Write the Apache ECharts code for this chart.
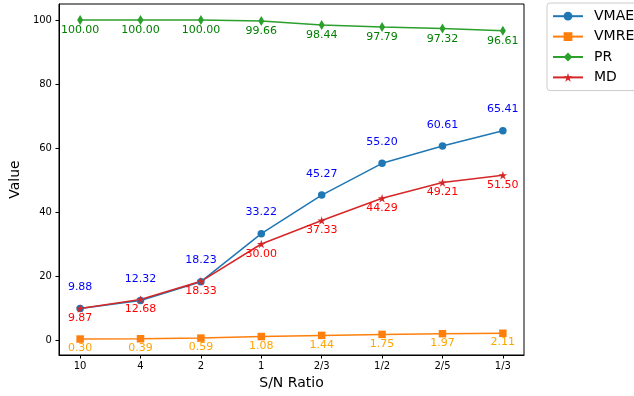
<!DOCTYPE html>
<html>
<head>
<meta charset="utf-8">
<script src="https://cdn.jsdelivr.net/npm/echarts@6/dist/echarts.min.js"></script>
<style>
  html, body { margin: 0; padding: 0; background: #fff; }
  #chart { width: 634px; height: 396px; }
</style>
</head>
<body>
<div id="chart"></div>
<script>
// S/N ratio categories along the x axis
const categories = ['10', '4', '2', '1', '2/3', '1/2', '2/5', '1/3'];

// Metric values per S/N ratio
const vmae = [9.88, 12.32, 18.23, 33.22, 45.27, 55.20, 60.61, 65.41];
const vmre = [0.30, 0.39, 0.59, 1.08, 1.44, 1.75, 1.97, 2.11];
const pr   = [100.00, 100.00, 100.00, 99.66, 98.44, 97.79, 97.32, 96.61];
const md   = [9.87, 12.68, 18.33, 30.00, 37.33, 44.29, 49.21, 51.50];

// Y tick values
const yTicks = [0, 20, 40, 60, 80, 100];

const FONT = 'DejaVu Sans';

function pts(values) {
  return values.map((v, i) => [i, v]);
}

function makeSeries(name, values, color, labelColor, symbol, symbolSize, labelPos, labelDist) {
  return {
    name: name,
    type: 'line',
    data: pts(values),
    symbol: symbol,
    symbolSize: symbolSize,
    showAllSymbol: true,
    lineStyle: { color: color, width: 1.5 },
    itemStyle: { color: color, borderWidth: 0 },
    emphasis: { disabled: true },
    animation: false,
    label: {
      show: true,
      position: labelPos,
      distance: labelDist,
      color: labelColor,
      fontFamily: FONT,
      fontSize: 11,
      formatter: p => p.value[1].toFixed(2)
    }
  };
}

const chart = echarts.init(document.getElementById('chart'), null, { renderer: 'canvas' });

const thinDiamond = 'path://M0,-1.5 L1,0 L0,1.5 L-1,0 Z';
const star = 'path://M0,-1 L0.2245,-0.309 L0.951,-0.309 L0.3633,0.118 L0.5878,0.809 L0,0.382 L-0.5878,0.809 L-0.3633,0.118 L-0.951,-0.309 L-0.2245,-0.309 Z';

chart.setOption({
  backgroundColor: '#ffffff',
  animation: false,
  grid: {
    left: 54, top: 4, width: 470, height: 351,
    show: true, borderColor: '#000', borderWidth: 1, backgroundColor: 'transparent'
  },
  legend: {
    orient: 'vertical',
    left: 547, top: 3,
    padding: [5, 8, 5, 5],
    itemWidth: 30, itemHeight: 11, itemGap: 4,
    borderColor: '#cccccc', borderWidth: 1, borderRadius: 3,
    backgroundColor: '#fff',
    textStyle: { fontFamily: FONT, fontSize: 14, color: '#000', padding: [0, 0, 0, 6], lineHeight: 16.4 },
    data: ['VMAE', 'VMRE', 'PR', 'MD']
  },
  xAxis: {
    type: 'value',
    min: -0.35, max: 7.35,
    name: 'S/N Ratio',
    nameLocation: 'middle',
    nameGap: 19,
    nameTextStyle: { fontFamily: FONT, fontSize: 14, color: '#000' },
    axisLine: { show: true, onZero: false, lineStyle: { color: '#000', width: 1 } },
    axisTick: { show: true, length: 3.5, lineStyle: { color: '#000', width: 1 }, customValues: [0, 1, 2, 3, 4, 5, 6, 7] },
    axisLabel: {
      fontFamily: FONT, fontSize: 10, color: '#000', margin: 6,
      customValues: [0, 1, 2, 3, 4, 5, 6, 7],
      formatter: v => categories[Math.round(v)]
    },
    splitLine: { show: false }
  },
  yAxis: {
    type: 'value',
    min: -4.685, max: 104.985,
    name: 'Value',
    nameLocation: 'middle',
    nameGap: 34,
    nameTextStyle: { fontFamily: FONT, fontSize: 14, color: '#000' },
    axisLine: { show: true, onZero: false, lineStyle: { color: '#000', width: 1 } },
    axisTick: { show: true, length: 3.5, lineStyle: { color: '#000', width: 1 }, customValues: yTicks },
    axisLabel: {
      fontFamily: FONT, fontSize: 10, color: '#000', margin: 7,
      customValues: yTicks
    },
    splitLine: { show: false }
  },
  series: [
    makeSeries('VMAE', vmae, '#1f77b4', '#0000ff', 'circle', 7.5, 'top', 12),
    makeSeries('VMRE', vmre, '#ff7f0e', '#ffa500', 'rect', 7.5, 'bottom', 0),
    makeSeries('PR', pr, '#2ca02c', '#008000', thinDiamond, [6, 10], 'bottom', 0),
    makeSeries('MD', md, '#d62728', '#ff0000', star, 8.5, 'bottom', 0)
  ]
});
</script>
</body>
</html>
